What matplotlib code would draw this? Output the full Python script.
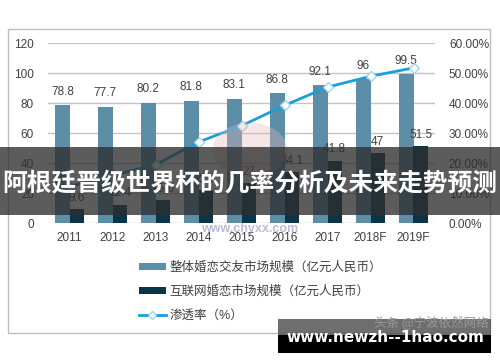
import matplotlib
matplotlib.use("Agg")
import matplotlib.pyplot as plt
from matplotlib.patches import Rectangle, Patch, Circle
from matplotlib.lines import Line2D
import numpy as np

plt.rcParams['font.family'] = ['Liberation Sans', 'Noto Sans CJK SC', 'DejaVu Sans']

years = ['2011', '2012', '2013', '2014', '2015', '2016', '2017', '2018F', '2019F']
total_market = [78.8, 77.7, 80.2, 81.8, 83.1, 86.8, 92.1, 96, 99.5]
online_market = [9.6, 12.4, 15.6, 22.2, 27, 34.1, 41.8, 47, 51.5]
penetration = [12.2, 16.0, 19.5, 27.1, 32.5, 39.3, 45.4, 49.0, 51.8]

left_ticks = [0, 20, 40, 60, 80, 100, 120]
right_ticks = [0, 10, 20, 30, 40, 50, 60]
right_labels = ['0.00%', '10.00%', '20.00%', '30.00%', '40.00%', '50.00%', '60.00%']

legend_labels = ['整体婚恋交友市场规模（亿元人民币）', '互联网婚恋市场规模（亿元人民币）', '渗透率（%）']
banner_text = '阿根廷晋级世界杯的几率分析及未来走势预测'
site_text = 'www.newzh--1hao.com'
credit_text = '头条 @宁波依然网络'

c_total = '#5d8ea8'
c_online = '#0b3448'
c_line = '#1c9fd4'
c_text = '#404040'
c_grid = '#c4c4c4'

W, H = 500, 362
fig = plt.figure(figsize=(W / 100, H / 100), dpi=100)

def fx(px):
    return px / W

def fy(py):
    return 1 - py / H

# outer frame
fig.patches.append(Rectangle((fx(8), fy(333)), fx(490) - fx(8), fy(29) - fy(333),
                             transform=fig.transFigure, fill=False, edgecolor='#bdbdbd', lw=1.0))

ax = fig.add_axes([fx(48), fy(223.3), fx(435) - fx(48), fy(43.3) - fy(223.3)])
ax2 = ax.twinx()

x = np.arange(len(years))
bw = 0.33
ax.bar(x - bw / 2, total_market, width=bw, color=c_total, zorder=2)
ax.bar(x + bw / 2, online_market, width=bw, color=c_online, zorder=2)
for xi, v in zip(x, total_market):
    ax.text(xi - bw / 2, v + 5, f'{v:g}', ha='center', va='bottom', fontsize=8.5, color=c_text, zorder=3)
for xi, v in zip(x, online_market):
    ax.text(xi + bw / 2, v + 3.5, f'{v:g}', ha='center', va='bottom', fontsize=8.5, color=c_text, zorder=3)

ax.set_ylim(0, 120)
ax.set_xlim(-0.5, len(years) - 0.5)
ax.set_yticks(left_ticks)
ax.yaxis.grid(True, color=c_grid, lw=1.0, zorder=0)
ax.set_axisbelow(True)
ax.set_xticks(x)
ax.set_xticklabels(years)
for s in ax.spines.values():
    s.set_visible(False)
for s in ax2.spines.values():
    s.set_visible(False)
ax.tick_params(axis='both', length=0, labelsize=8.5, colors=c_text)
ax.tick_params(axis='x', pad=6)
ax.tick_params(axis='y', pad=10)

ax2.plot(x, penetration, color=c_line, lw=2.0, marker='D', markersize=5.5,
         markerfacecolor='white', markeredgecolor='#9fd6ee', markeredgewidth=1.0, zorder=4)
ax2.set_ylim(0, 60)
ax2.set_yticks(right_ticks)
ax2.set_yticklabels(right_labels)
ax2.tick_params(axis='y', length=0, labelsize=8.5, colors=c_text, pad=10)

# faint source watermark
fig.patches.append(Circle((fx(250), fy(150)), 0.075, transform=fig.transFigure,
                          facecolor='#e8b8b8', alpha=0.35, edgecolor='none', zorder=5))
fig.text(fx(250), fy(229), 'www.chyxx.com', ha='center', va='center', fontsize=9,
         color='#9aa0c8', alpha=0.7, fontweight='bold', zorder=6)

handles = [Patch(facecolor=c_total, edgecolor='none'),
           Patch(facecolor=c_online, edgecolor='none'),
           Line2D([0], [0], color=c_line, lw=2, marker='D', markersize=4,
                  markerfacecolor='white', markeredgecolor='#9fd6ee')]
fig.legend(handles, legend_labels, loc='upper left', bbox_to_anchor=(fx(128), fy(250)),
           frameon=False, fontsize=9, handlelength=2.1, handleheight=0.5,
           labelspacing=0.95, handletextpad=0.3, labelcolor=c_text)

# title banner overlay
fig.patches.append(Rectangle((0, fy(215)), 1, fy(147) - fy(215), transform=fig.transFigure,
                             facecolor='#2e2e2e', alpha=0.78, edgecolor='none', zorder=10))
fig.text(0.5, fy(184), banner_text, ha='center', va='center', fontsize=17.8, fontweight='bold',
         color='white', family=['Noto Sans CJK SC', 'DejaVu Sans'], zorder=11)

# bottom-right site overlay
fig.patches.append(Rectangle((fx(278), fy(335)), fx(491) - fx(278), fy(319) - fy(335),
                             transform=fig.transFigure, facecolor='#555555', alpha=0.85,
                             edgecolor='none', zorder=10))
fig.patches.append(Rectangle((fx(278), fy(353)), fx(491) - fx(278), fy(335) - fy(353),
                             transform=fig.transFigure, facecolor='black', edgecolor='none', zorder=10))
fig.text(fx(489), fy(323), credit_text, ha='right', va='center', fontsize=9, color='#9a9a9a',
         family=['Noto Sans CJK SC', 'DejaVu Sans'], zorder=11)
fig.text(fx(385), fy(338), site_text, ha='center', va='center', fontsize=11, fontweight='bold',
         color='white', family=['DejaVu Sans'], zorder=11)

fig.savefig('out.png', dpi=100)
